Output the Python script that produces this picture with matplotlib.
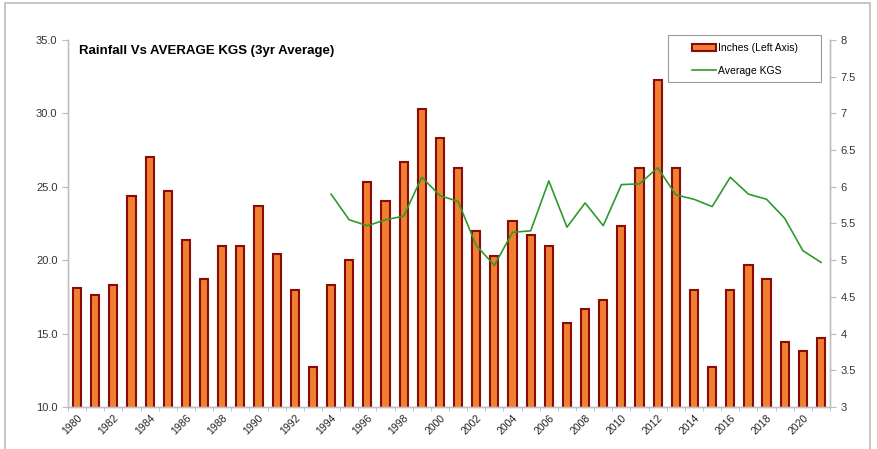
import matplotlib
matplotlib.use("Agg")
import matplotlib.pyplot as plt
from matplotlib.patches import Rectangle
import numpy as np

plt.rcParams["font.family"] = ["Liberation Sans", "DejaVu Sans"]

years = list(range(1980, 2022))
inches = [18.1, 17.6, 18.3, 24.4, 27.0, 24.7, 21.4, 18.7, 21.0, 21.0,
          23.7, 20.4, 18.0, 12.7, 18.3, 20.0, 25.3, 24.0, 26.7, 30.3,
          28.3, 26.3, 22.0, 20.3, 22.7, 21.7, 21.0, 15.7, 16.7, 17.3,
          22.3, 26.3, 32.3, 26.3, 18.0, 12.7, 18.0, 19.7, 18.7, 14.4,
          13.8, 14.7]
kgs_years = list(range(1994, 2022))
avg_kgs = [5.90, 5.55, 5.47, 5.55, 5.60, 6.13, 5.88, 5.80, 5.20, 4.93,
           5.38, 5.40, 6.08, 5.45, 5.78, 5.47, 6.03, 6.04, 6.26, 5.89,
           5.83, 5.73, 6.13, 5.90, 5.83, 5.57, 5.13, 4.97]
tick_years = list(range(1980, 2021, 2))

fig = plt.figure(figsize=(8.77, 4.49), dpi=100)
ax = fig.add_axes([0.0775, 0.0935, 0.869, 0.8175])

x = np.arange(len(years))
bars = ax.bar(x, inches, width=0.45, color="#F07F30", edgecolor="#8B0A0A",
              linewidth=1.5, label="Inches (Left Axis)", zorder=2)
ax.set_ylim(10, 35)
ax.set_xlim(-0.5, len(years) - 0.5)
ax.set_yticks(np.arange(10, 35.1, 5))
ax.set_yticklabels([f"{v:.1f}" for v in np.arange(10, 35.1, 5)])
ax.set_xticks([years.index(y) for y in tick_years])
ax.set_xticklabels([str(y) for y in tick_years], rotation=45, ha="right",
                   rotation_mode="anchor")
ax.set_xticks(np.arange(-0.5, len(years), 1), minor=True)
ax.tick_params(axis="x", which="major", length=0, labelsize=7.5, colors="#222222", pad=4)
ax.tick_params(axis="x", which="minor", length=3, color="#bbbbbb")
ax.tick_params(axis="y", length=4, color="#bbbbbb", labelsize=8, labelcolor="#333333")

ax2 = ax.twinx()
xk = [years.index(y) for y in kgs_years]
line, = ax2.plot(xk, avg_kgs, color="#2E9A2E", linewidth=1.2, label="Average KGS")
ax2.set_ylim(3, 8)
ax2.set_yticks(np.arange(3, 8.1, 0.5))
ax2.set_yticklabels(["3", "3.5", "4", "4.5", "5", "5.5", "6", "6.5", "7", "7.5", "8"])
ax2.tick_params(axis="y", length=4, color="#bbbbbb", labelsize=8, labelcolor="#333333")

for a in (ax, ax2):
    a.spines["top"].set_visible(False)
    for s in ("left", "right", "bottom"):
        a.spines[s].set_color("#c0c0c0")
        a.spines[s].set_linewidth(1.0)

ax.text(0.014, 0.985, "Rainfall Vs AVERAGE KGS (3yr Average)", transform=ax.transAxes,
        fontsize=9.5, fontweight="bold", va="top", ha="left")

# legend entries without frame, frame drawn separately (Excel-like wide padding)
leg = ax2.legend([bars, line], ["Inches (Left Axis)", "Average KGS"],
                 loc="upper left", bbox_to_anchor=(692 / 877, 1 - 43 / 449),
                 bbox_transform=fig.transFigure, fontsize=7.5, frameon=False,
                 borderpad=0, borderaxespad=0, labelspacing=1.25,
                 handlelength=2.3, handletextpad=0.2)
fig.patches.append(Rectangle((668 / 877, 1 - 82 / 449), 153 / 877, 47 / 449,
                             transform=fig.transFigure, fill=False,
                             edgecolor="#999999", linewidth=0.8))

fig.patches.append(Rectangle((0.006, -0.01), 0.986, 1.003, transform=fig.transFigure,
                             fill=False, edgecolor="#bbbbbb", linewidth=1.2))

fig.savefig("out.png", dpi=100)
